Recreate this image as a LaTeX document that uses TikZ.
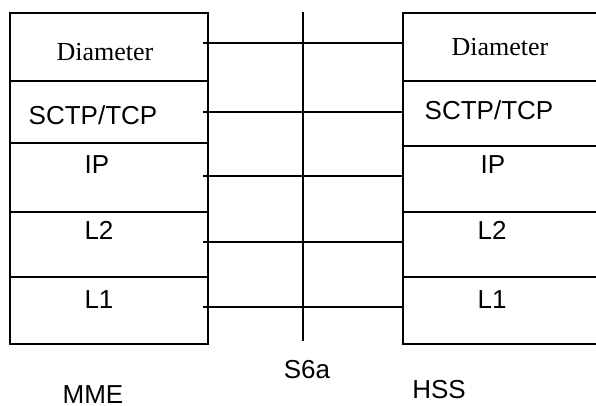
\documentclass[tikz,border=0pt]{standalone}
\usepackage{fontspec}
\setmainfont{Liberation Sans}
\newfontfamily\timesfont{Liberation Serif}
\begin{document}
\begin{tikzpicture}[x=1pt,y=-1pt,
  layer/.style={draw,line width=2pt,inner sep=0pt,anchor=north west},
  lbl/.style={anchor=base,inner sep=0pt,font=\fontsize{26}{30}\selectfont},
  slbl/.style={anchor=base,inner sep=0pt,font=\timesfont\fontsize{26}{30}\selectfont},
  link/.style={line width=2pt}]
\useasboundingbox (0,0) rectangle (596,405);
% left stack (MME)
\node[layer,minimum width=198pt,minimum height=68pt] (l1) at (9,12) {};
\node[layer,minimum width=198pt,minimum height=62pt] (l2) at (9,80) {};
\node[layer,minimum width=198pt,minimum height=69pt] (l3) at (9,142) {};
\node[layer,minimum width=198pt,minimum height=65pt] (l4) at (9,211) {};
\node[layer,minimum width=198pt,minimum height=67pt] (l5) at (9,276) {};
% right stack (HSS)
\node[layer,minimum width=230pt,minimum height=68pt] (r1) at (402,12) {};
\node[layer,minimum width=230pt,minimum height=65pt] (r2) at (402,80) {};
\node[layer,minimum width=230pt,minimum height=66pt] (r3) at (402,145) {};
\node[layer,minimum width=230pt,minimum height=65pt] (r4) at (402,211) {};
\node[layer,minimum width=230pt,minimum height=67pt] (r5) at (402,276) {};
% labels
\node[slbl] (tl1) at (105,60) {Diameter};
\node[lbl] (tl2) at (93,124) {SCTP/TCP};
\node[lbl] (tl3) at (97,173) {IP};
\node[lbl] (tl4) at (99,239) {L2};
\node[lbl] (tl5) at (99,308) {L1};
\node[slbl] (tr1) at (500,55) {Diameter};
\node[lbl] (tr2) at (489,119) {SCTP/TCP};
\node[lbl] (tr3) at (493,173) {IP};
\node[lbl] (tr4) at (492,239) {L2};
\node[lbl] (tr5) at (492,308) {L1};
\node[lbl] (mme) at (93,403) {MME};
\node[lbl] (hss) at (439,398) {HSS};
\node[lbl] (s6a) at (307,378) {S6a};
% interface line
\coordinate (vt) at (303,12);
\coordinate (vb) at (303,341);
\draw[link] (vt) -- (vb);
% peer links
\coordinate (a1) at (203,43);
\coordinate (a2) at (203,112);
\coordinate (a3) at (203,176);
\coordinate (a4) at (203,242);
\coordinate (a5) at (203,307);
\draw[link] (a1) -- (a1 -| r1.west);
\draw[link] (a2) -- (a2 -| r2.west);
\draw[link] (a3) -- (a3 -| r3.west);
\draw[link] (a4) -- (a4 -| r4.west);
\draw[link] (a5) -- (a5 -| r5.west);
\end{tikzpicture}
\end{document}
